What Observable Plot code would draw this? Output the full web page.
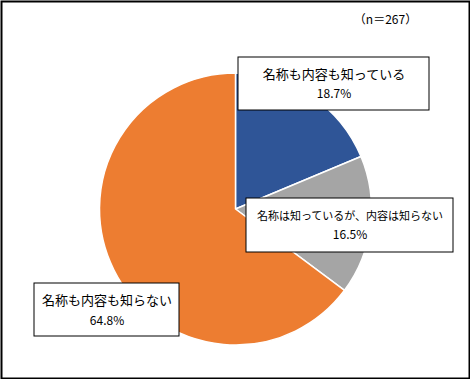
<!DOCTYPE html>
<html>
<head>
<meta charset="utf-8">
<script src="https://cdn.jsdelivr.net/npm/d3@7"></script>
<script src="https://cdn.jsdelivr.net/npm/@observablehq/plot@0.6"></script>
<style>
  html, body { margin: 0; padding: 0; background: #fff; }
  svg { display: block; }
</style>
</head>
<body>
<div id="chart"></div>
<script>
// ---- data ----
const categories = ["名称も内容も知っている", "名称は知っているが、内容は知らない", "名称も内容も知らない"];
const shares = [18.7, 16.5, 64.8];
const sampleNote = "（n＝267）";

// ---- style / layout (not data) ----
const colors = ["#2F5597", "#A5A5A5", "#ED7D31"];
const W = 470, H = 379;
const pieCenter = [235.5, 209];
const pieRadius = 136;
const labelBoxes = [
  {x1: 238, x2: 429, y1: 57, y2: 110},
  {x1: 246, x2: 453, y1: 198, y2: 252},
  {x1: 34, x2: 179, y1: 283, y2: 336}
];
const nameDy = [-9, -9, -9];
const pctDy = [10, 10, 11];
const nameSize = [13, 11, 13];

const rows = categories.map((c, i) => ({
  name: c, value: shares[i], color: colors[i], box: labelBoxes[i],
  cx: (labelBoxes[i].x1 + labelBoxes[i].x2) / 2,
  cy: (labelBoxes[i].y1 + labelBoxes[i].y2) / 2,
  pct: shares[i].toFixed(1) + "%", i
}));

function pieMark(index, scales) {
  const cx = scales.x(pieCenter[0]);
  const cy = scales.y(pieCenter[1]);
  const r = scales.x(pieCenter[0] + pieRadius) - cx;
  const arcs = d3.pie().sort(null).value(d => d.value)(rows);
  const arc = d3.arc().innerRadius(0).outerRadius(r);
  const g = d3.create("svg:g").attr("transform", `translate(${cx},${cy})`);
  g.selectAll("path").data(arcs).join("path")
    .attr("d", arc)
    .attr("fill", d => d.data.color)
    .attr("stroke", "#fff")
    .attr("stroke-width", 1.5)
    .attr("stroke-linejoin", "round");
  return g.node();
}

const font = "'Noto Sans CJK JP', 'Noto Sans', sans-serif";

const chart = Plot.plot({
  width: W, height: H,
  margin: 0,
  x: {domain: [0, W], range: [0, W], axis: null},
  y: {domain: [0, H], range: [0, H], axis: null},
  style: {fontFamily: font, background: "#fff"},
  marks: [
    pieMark,
    Plot.rect(rows, {
      x1: d => d.box.x1, x2: d => d.box.x2, y1: d => d.box.y1, y2: d => d.box.y2,
      fill: "white", stroke: "#000", strokeWidth: 1
    }),
    ...rows.map(r => Plot.text([r], {
      x: "cx", y: d => d.cy + nameDy[d.i], text: "name",
      fontSize: nameSize[r.i], fill: "#000", textAnchor: "middle", lineAnchor: "middle"
    })),
    Plot.text(rows, {
      x: "cx", y: d => d.cy + pctDy[d.i], text: "pct",
      fontSize: 12, fill: "#000", textAnchor: "middle", lineAnchor: "middle"
    }),
    Plot.text([sampleNote], {
      x: [385], y: [20], text: d => d,
      fontSize: 12, fill: "#000", textAnchor: "middle", lineAnchor: "middle"
    }),
    Plot.frame({stroke: "#000", strokeWidth: 2, inset: 1})
  ]
});
document.getElementById("chart").append(chart);
</script>
</body>
</html>
